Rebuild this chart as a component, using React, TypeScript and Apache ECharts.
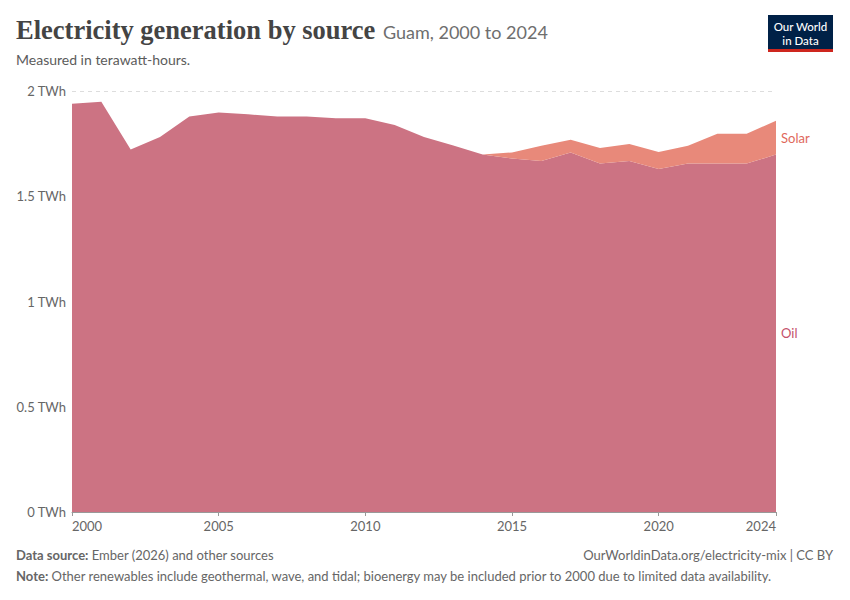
import React, { useEffect, useRef } from "react";
import * as echarts from "echarts";

const years = [
  "2000","2001","2002","2003","2004","2005","2006","2007","2008","2009","2010","2011",
  "2012","2013","2014","2015","2016","2017","2018","2019","2020","2021","2022","2023","2024",
];
const oil = [
  1.94, 1.949, 1.722, 1.781, 1.879, 1.898, 1.889, 1.879, 1.879, 1.87, 1.87, 1.838,
  1.781, 1.741, 1.698, 1.679, 1.668, 1.708, 1.655, 1.667, 1.629, 1.655, 1.655, 1.655, 1.698,
];
const solar = [
  0, 0, 0, 0, 0, 0, 0, 0, 0, 0, 0, 0,
  0, 0, 0, 0.029, 0.072, 0.06, 0.074, 0.081, 0.081, 0.085, 0.142, 0.142, 0.161,
];
const yTicks = [0, 0.5, 1, 1.5, 2];
const labeledYears = ["2000", "2005", "2010", "2015", "2020", "2024"];

const OIL_COLOR = "#CC7383";
const SOLAR_COLOR = "#E8897A";
const FONT = "Lato, 'Noto Sans', sans-serif";

export default function App() {
  const ref = useRef<HTMLDivElement>(null);
  useEffect(() => {
    if (!ref.current) return;
    const chart = echarts.init(ref.current, null, { renderer: "svg" });
    const showIdx = (i: number) => labeledYears.includes(years[i]);
    chart.setOption({
      animation: false,
      grid: { left: 72, right: 74, top: 91, bottom: 88, containLabel: false },
      xAxis: {
        type: "category",
        data: years,
        boundaryGap: false,
        axisLine: { show: true, lineStyle: { color: "#999", width: 1 } },
        axisTick: { show: true, interval: (i: number) => showIdx(i), length: 4, lineStyle: { color: "#999" } },
        axisLabel: {
          interval: (i: number) => showIdx(i),
          color: "#666",
          fontFamily: FONT,
          fontSize: 13,
          margin: 7,
          alignMinLabel: "left",
          alignMaxLabel: "right",
        },
        splitLine: { show: false },
      },
      yAxis: {
        type: "value",
        min: yTicks[0],
        max: yTicks[yTicks.length - 1],
        interval: 0.5,
        axisLine: { show: false },
        axisTick: { show: false },
        axisLabel: {
          color: "#666",
          fontFamily: FONT,
          fontSize: 13,
          margin: 6,
          formatter: (v: number) => `${v} TWh`,
        },
        splitLine: { show: true, lineStyle: { color: "#ddd", type: [4, 4], width: 1 } },
      },
      series: [
        {
          name: "Oil",
          type: "line",
          stack: "total",
          data: oil,
          symbol: "none",
          lineStyle: { width: 0 },
          areaStyle: { color: OIL_COLOR, opacity: 1 },
          z: 2,
        },
        {
          name: "Solar",
          type: "line",
          stack: "total",
          data: solar,
          symbol: "none",
          lineStyle: { width: 0 },
          areaStyle: { color: SOLAR_COLOR, opacity: 1 },
          z: 2,
        },
      ],
    });

    const last = years.length - 1;
    const oilMid = chart.convertToPixel({ gridIndex: 0 }, [last, oil[last] / 2]) as number[];
    const solarMid = chart.convertToPixel({ gridIndex: 0 }, [last, oil[last] + solar[last] / 2]) as number[];

    chart.setOption({
      graphic: [
        {
          type: "text",
          left: 16,
          top: 16,
          style: {
            text: "Electricity generation by source",
            font: "600 26.5px 'Liberation Serif', 'DejaVu Serif', serif",
            fill: "#444",
          },
        },
        {
          type: "text",
          left: 383,
          top: 23,
          style: {
            text: "Guam, 2000 to 2024",
            font: `400 18px ${FONT}`,
            fill: "#6e6e6e",
          },
        },
        {
          type: "text",
          left: 16,
          top: 52,
          style: {
            text: "Measured in terawatt-hours.",
            font: `400 14px ${FONT}`,
            fill: "#5b5b5b",
          },
        },
        {
          type: "rect",
          shape: { x: 768, y: 15, width: 65, height: 37 },
          style: { fill: "#002147" },
        },
        {
          type: "rect",
          shape: { x: 768, y: 49, width: 65, height: 3 },
          style: { fill: "#CE261E" },
        },
        {
          type: "text",
          x: 800.5,
          y: 26.5,
          style: {
            text: "Our World",
            font: `500 11.5px ${FONT}`,
            fill: "#fff",
            align: "center",
            verticalAlign: "middle",
          },
        },
        {
          type: "text",
          x: 800.5,
          y: 40,
          style: {
            text: "in Data",
            font: `500 11.5px ${FONT}`,
            fill: "#fff",
            align: "center",
            verticalAlign: "middle",
          },
        },
        {
          type: "text",
          x: solarMid[0] + 5,
          y: solarMid[1],
          style: {
            text: "Solar",
            font: `400 13px ${FONT}`,
            fill: "#E0685B",
            verticalAlign: "middle",
          },
        },
        {
          type: "text",
          x: oilMid[0] + 5,
          y: oilMid[1],
          style: {
            text: "Oil",
            font: `400 13px ${FONT}`,
            fill: "#C4506A",
            verticalAlign: "middle",
          },
        },
        {
          type: "text",
          left: 16,
          top: 548,
          style: {
            rich: {
              b: { font: `700 13px ${FONT}`, fill: "#666" },
              n: { font: `400 13px ${FONT}`, fill: "#666" },
            },
            text: "{b|Data source:} {n|Ember (2026) and other sources}",
          },
        },
        {
          type: "text",
          right: 17,
          top: 548,
          style: {
            text: "OurWorldinData.org/electricity-mix | CC BY",
            font: `400 13px ${FONT}`,
            fill: "#666",
          },
        },
        {
          type: "text",
          left: 16,
          top: 569,
          style: {
            rich: {
              b: { font: `700 13px ${FONT}`, fill: "#666" },
              n: { font: `400 13px ${FONT}`, fill: "#666" },
            },
            text: "{b|Note:} {n|Other renewables include geothermal, wave, and tidal; bioenergy may be included prior to 2000 due to limited data availability.}",
          },
        },
      ],
    });

    return () => chart.dispose();
  }, []);
  return (
    <div
      ref={ref}
      style={{ position: "fixed", left: 0, top: 0, width: 850, height: 600, background: "#fff" }}
    />
  );
}
